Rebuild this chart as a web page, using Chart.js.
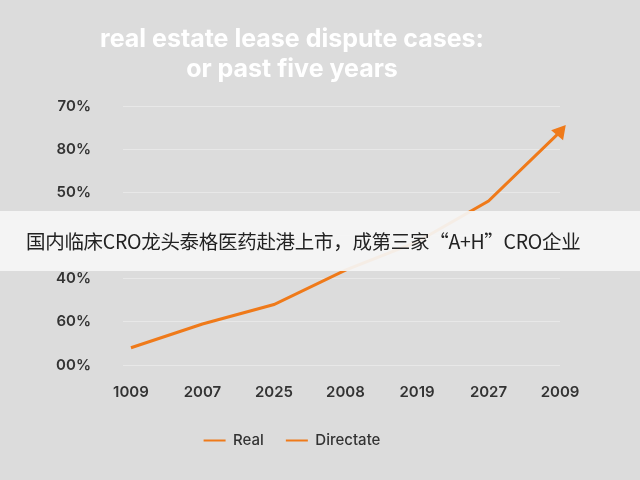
<!DOCTYPE html>
<html>
<head>
<meta charset="utf-8">
<script src="https://cdn.jsdelivr.net/npm/chart.js@4"></script>
<style>
  html, body { margin: 0; padding: 0; background: #dcdcdc; }
  #wrap { position: relative; width: 640px; height: 480px; }
  #banner {
    position: absolute; left: 0; top: 211px; width: 640px; height: 60px;
    background: rgba(245,245,245,0.93);
    font-family: "Noto Sans CJK SC", sans-serif; font-size: 19.5px; color: #222;
    line-height: 60px; padding-left: 26px; box-sizing: border-box; letter-spacing: -0.3px;
  }
</style>
</head>
<body>
<div id="wrap">
  <canvas id="c" width="640" height="480"></canvas>
  <div id="banner">国内临床CRO龙头泰格医药赴港上市，成第三家“A+H”CRO企业</div>
</div>
<script>
const categories = ['1009', '2007', '2025', '2008', '2019', '2027', '2009'];
const tickLabels = ['00%', '60%', '40%', '', '50%', '80%', '70%'];
const realValues = [0.4, 0.95, 1.4, 2.2, 2.85, 3.8, 5.4];
const directateValues = [];

const orange = '#ef7a1a';

new Chart(document.getElementById('c'), {
    type: 'line',
    data: {
        labels: categories,
        datasets: [{
            label: 'Real',
            data: realValues,
            borderColor: orange,
            backgroundColor: orange,
            borderWidth: 3,
            pointRadius: [0, 0, 0, 0, 0, 0, 6],
            pointStyle: 'triangle',
            pointRotation: 40,
            tension: 0
        }, {
            label: 'Directate',
            data: directateValues,
            borderColor: orange,
            backgroundColor: orange,
            borderWidth: 3
        }]
    },
    options: {
        responsive: false,
        animation: false,
        layout: { padding: { left: 24, right: 80, top: 14, bottom: 22 } },
        plugins: {
            title: {
                display: true,
                text: ['real estate lease dispute cases:', 'or past five years'],
                color: '#ffffff',
                font: { family: 'Inter', size: 25, weight: 'bold' },
                padding: { top: 10, bottom: 22 },
                lineHeight: 1.0
            },
            legend: {
                position: 'bottom',
                labels: {
                    color: '#333',
                    font: { family: 'Inter', size: 15, weight: '500' },
                    boxWidth: 22, boxHeight: 2,
                    padding: 22,
                    generateLabels: chart => chart.data.datasets.map((d, i) => ({
                        text: d.label, fillStyle: orange, strokeStyle: orange,
                        lineWidth: 0, fontColor: '#333', datasetIndex: i
                    }))
                }
            },
            tooltip: { enabled: false }
        },
        scales: {
            x: {
                offset: false,
                grid: { display: false },
                border: { display: false },
                ticks: { color: '#333', font: { family: 'Inter', size: 15, weight: '600' }, padding: 10 }
            },
            y: {
                min: 0, max: 6,
                grid: { color: 'rgba(255,255,255,0.35)' },
                border: { display: false },
                ticks: {
                    stepSize: 1,
                    color: '#333',
                    font: { family: 'Inter', size: 15, weight: '600' },
                    padding: 32,
                    callback: v => tickLabels[v]
                }
            }
        }
    }
});
</script>
</body>
</html>
